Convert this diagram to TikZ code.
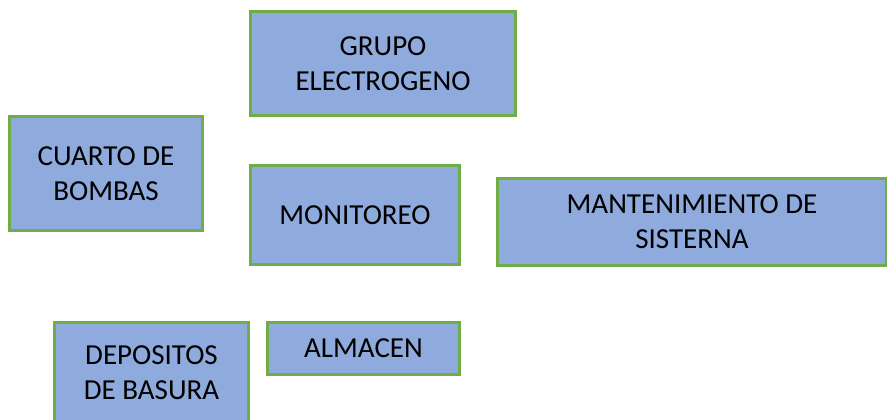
\documentclass[tikz,border=0pt]{standalone}
\usepackage{fontspec}
\setmainfont{Carlito}
\definecolor{boxfill}{HTML}{8FAADC}
\definecolor{boxline}{HTML}{70AD47}
\tikzset{
  areabox/.style={draw=boxline, fill=boxfill, line width=3pt, align=center,
    inner sep=0pt, font=\fontsize{29}{35}\selectfont, text=black}
}
\begin{document}
\begin{tikzpicture}[x=1pt,y=-1pt]
\useasboundingbox (0,0) rectangle (887,420);
\node[areabox, minimum width=265pt, minimum height=104pt] (grupo) at (383,63.5) {GRUPO\\ELECTROGENO};
\node[areabox, minimum width=193pt, minimum height=114pt] (cuarto) at (106,173.5) {CUARTO DE\\BOMBAS};
\node[areabox, minimum width=209pt, minimum height=99pt] (monitoreo) at (355,215) {MONITOREO};
\node[areabox, minimum width=389pt, minimum height=87pt] (mant) at (692,222) {MANTENIMIENTO DE\\SISTERNA};
\node[areabox, minimum width=194pt, minimum height=101pt] (depositos) at (151.5,373) {DEPOSITOS\\DE BASURA};
\node[areabox, minimum width=192pt, minimum height=52pt] (almacen) at (363.5,348.5) {\raisebox{-3pt}{ALMACEN}};
\end{tikzpicture}
\end{document}
